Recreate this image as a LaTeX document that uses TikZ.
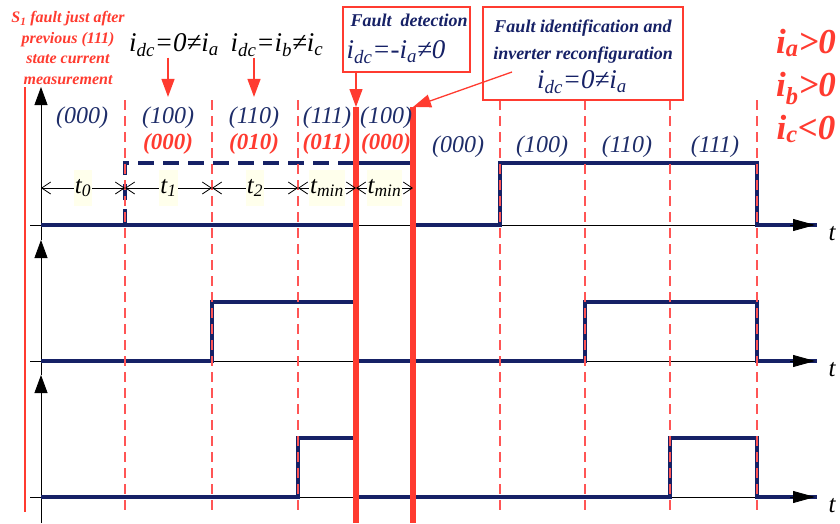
\documentclass[tikz,border=0pt]{standalone}
\usepackage{fontspec}
\setmainfont{Liberation Serif}
\usetikzlibrary{arrows.meta}
\definecolor{navy}{RGB}{22,33,102}
\definecolor{fred}{RGB}{255,59,48}
\definecolor{dred}{RGB}{255,85,85}
\definecolor{lblue}{RGB}{30,45,105}
\definecolor{pale}{RGB}{255,255,236}
\newcommand{\fs}[2]{\fontsize{#1}{#2}\selectfont}
\newcommand{\lsub}[1]{\textsubscript{#1}}
\begin{document}
\begin{tikzpicture}[x=1pt,y=-1pt,
  sig/.style={navy,line width=4pt,line cap=butt,line join=miter},
  sigdash/.style={sig,dash pattern=on 16pt off 9pt},
  vdash/.style={dred,line width=1.2pt,dash pattern=on 10pt off 6pt},
  fault/.style={fred,line width=5.5pt},
  axis/.style={black,line width=0.8pt},
  vtip/.style={axis,-{Triangle[length=18pt,width=13pt]}},
  htip/.style={axis,-{Triangle[length=22pt,width=12pt]}},
  state/.style={lblue,font=\fs{24}{26}\itshape,inner sep=0pt},
  rstate/.style={fred,font=\fs{23}{26}\bfseries\itshape,inner sep=0pt},
  callout/.style={draw=fred,line width=1.3pt,fill=white},
  redarr/.style={fred,line width=1.3pt,-{Triangle[width=13pt,length=18pt]}},
  tarr/.style={axis,{Straight Barb[length=9pt,width=12pt]}-{Straight Barb[length=9pt,width=12pt]}},
  tlab/.style={fill=pale,font=\fs{25}{27}\itshape,inner xsep=1pt,minimum height=36pt},
  cond/.style={fred,font=\fs{35}{38}\bfseries\itshape,inner sep=0pt,anchor=base},
]
\useasboundingbox (0,0) rectangle (840,523);

% ---- axes
\foreach \yy in {225,361,497}{
  \draw[axis] (30,\yy) -- (800,\yy);
}
\draw[vtip] (41,523) -- (41,375);
\draw[vtip] (41,375) -- (41,240);
\draw[vtip] (41,240) -- (41,87);

% ---- signals
% phase a
\draw[sig] (41,225) -- (356,225);
\draw[sigdash] (125,225) -- (125,163) -- (356,163);
\draw[sig] (356,163) -- (413,163);
\draw[sig] (413,225) -- (500,225) -- (500,163) -- (757,163) -- (757,225) -- (817,225);
% phase b
\draw[sig] (41,361) -- (212,361) -- (212,302) -- (356,302);
\draw[sig] (356,361) -- (585,361) -- (585,302) -- (757,302) -- (757,361) -- (817,361);
% phase c
\draw[sig] (41,497) -- (298,497) -- (298,438) -- (356,438);
\draw[sig] (356,497) -- (670,497) -- (670,438) -- (757,438) -- (757,497) -- (817,497);

% axis arrow heads and t labels
\foreach \yy/\nm in {225/ta,361/tb,497/tc}{
  \draw[htip] (790,\yy) -- (815,\yy);
  \node[font=\fs{25}{27}\itshape,anchor=base] (\nm) at (832,\yy+15) {t};
}

% ---- dashed instants
\foreach \xx in {125,212,298,500,585,670,757}{
  \draw[vdash] (\xx,100) -- (\xx,512);
}
\draw[fred,line width=1.2pt] (25,87) -- (25,512);

% ---- fault instants
\coordinate (f1) at (356,107);
\coordinate (f2) at (413,107);
\draw[fault] (f1) -- (356,523);
\draw[fault] (f2) -- (413,523);

% ---- time intervals
\foreach \xa/\xb/\lab/\nm in {41/125/0/i0,125/212/1/i1,212/298/2/i2,298/356/{min}/i3,356/413/{min}/i4}{
  \draw[tarr] (\xa,188) -- (\xb,188);
  \node[tlab] (\nm) at ({(\xa+\xb)/2},188) {t\lsub{\lab}};
}

% ---- state labels
\node[state] (s1) at (82,118) {(000)};
\node[state] (s2) at (168,118) {(100)};
\node[state] (s3) at (254,118) {(110)};
\node[state] (s4) at (327,118) {(111)};
\node[state] (s5) at (386,118) {(100)};
\node[rstate] (r2) at (168,144) {(000)};
\node[rstate] (r3) at (254,144) {(010)};
\node[rstate] (r4) at (327,144) {(011)};
\node[rstate] (r5) at (386,144) {(000)};
\node[state] (s6) at (458,147) {(000)};
\node[state] (s7) at (542,147) {(100)};
\node[state] (s8) at (627,147) {(110)};
\node[state] (s9) at (715,147) {(111)};

% ---- annotations
\node[fred,font=\fs{16}{20.7}\bfseries\itshape,align=center,inner sep=0pt] (note) at (68,48)
  {S\lsub{1} fault just after\\previous (111)\\state current\\measurement};

\node[font=\fs{27}{29}\itshape,inner sep=1pt] (lab1) at (174,45) {i\lsub{dc}=0≠i\lsub{a}};
\node[font=\fs{27}{29}\itshape,inner sep=1pt] (lab2) at (277,45) {i\lsub{dc}=i\lsub{b}≠i\lsub{c}};
\draw[redarr,shorten >=10pt] (lab1.south -| s2.north) -- (s2.north);
\draw[redarr,shorten >=10pt] (lab2.south -| s3.north) -- (s3.north);

\node[callout,minimum width=127pt,minimum height=65pt,inner sep=0pt] (fd) at (406.5,39.5) {};
\node[navy,font=\fs{18}{20}\bfseries\itshape,inner sep=0pt] (fdt) at (409,20) {Fault\ \ detection};
\node[navy,font=\fs{27}{29}\itshape,inner sep=0pt] (fdm) at (396,52) {i\lsub{dc}=-i\lsub{a}≠0};
\draw[redarr] (fd.south -| f1) -- (f1);

\node[callout,minimum width=200pt,minimum height=93pt,inner sep=0pt] (fi) at (583,53.5) {};
\node[navy,font=\fs{18}{20}\bfseries\itshape,inner sep=0pt] (fit1) at (583,28) {Fault\ identification\ and};
\node[navy,font=\fs{18}{20}\bfseries\itshape,inner sep=0pt] (fit2) at (583,55) {inverter\ reconfiguration};
\node[navy,font=\fs{27}{29}\itshape,inner sep=0pt] (fim) at (582,82) {i\lsub{dc}=0≠i\lsub{a}};
\coordinate (fiA) at (512,72);
\draw[redarr] (fiA) -- (f2);

\node[cond] (ca) at (806,53) {i\lsub{a}>0};
\node[cond] (cb) at (806,96) {i\lsub{b}>0};
\node[cond] (cc) at (806,139) {i\lsub{c}<0};
\end{tikzpicture}
\end{document}
